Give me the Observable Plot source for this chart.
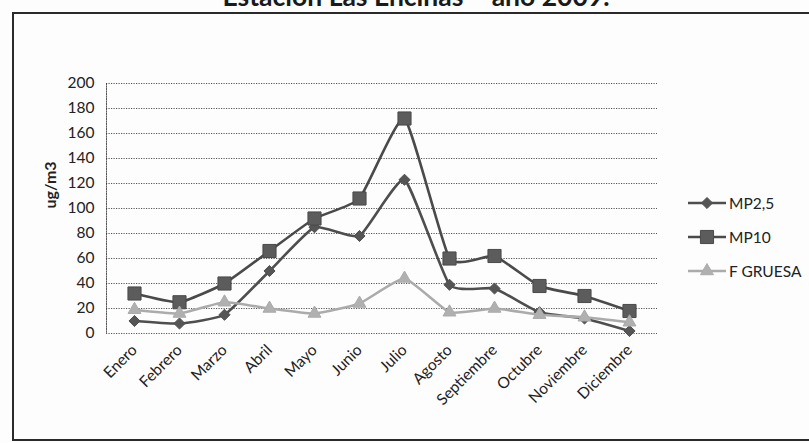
<!DOCTYPE html>
<html>
<head>
<meta charset="utf-8">
<script src="https://cdn.jsdelivr.net/npm/d3@7"></script>
<script src="https://cdn.jsdelivr.net/npm/@observablehq/plot@0.6"></script>
<style>
  body { margin: 0; background: #fff; }
  #wrap { position: relative; width: 809px; height: 443px; overflow: hidden; font-family: Lato, "Open Sans", sans-serif; background: #fdfdfd; }
  #frame { position: absolute; left: 12px; top: 12px; width: 830px; height: 429px; border: 2px solid #2a2a2a; box-sizing: border-box; pointer-events: none; }
  #title { position: absolute; left: 0; top: 0; }
  #chart { position: absolute; left: 0; top: 0; }
  #legend { position: absolute; left: 684px; top: 190px; }
</style>
</head>
<body>
<div id="wrap">
  <svg id="title" width="809" height="20"></svg>
  <div id="chart"></div>
  <div id="frame"></div>
  <svg id="legend" width="120" height="100"></svg>
</div>
<script>
// Monthly concentrations, Estación Las Encinas, 2009
const months = ["Enero", "Febrero", "Marzo", "Abril", "Mayo", "Junio", "Julio",
  "Agosto", "Septiembre", "Octubre", "Noviembre", "Diciembre"];
const mp25 = [10, 8, 15, 50, 85, 78, 123, 39, 36, 17, 12, 2];
const mp10 = [32, 25, 40, 66, 92, 108, 172, 60, 62, 38, 30, 18];
const fGruesa = [19, 16, 25, 20, 16, 24, 44, 17, 20, 15, 13, 9];
const yTicks = [0, 20, 40, 60, 80, 100, 120, 140, 160, 180, 200];
const seriesNames = ["MP2,5", "MP10", "F GRUESA"];
const titleText = "Estación Las Encinas – año 2009.";
const yLabel = "ug/m3";

const seriesStyle = {
  "MP2,5": {stroke: "#4e4e4e", fill: "#555", symbol: "diamond2", r: 5},
  "MP10": {stroke: "#4a4a4a", fill: "#5c5c5c", symbol: "square", r: 7.4},
  "F GRUESA": {stroke: "#ababab", fill: "#b0b0b0", symbol: "triangle", r: 4.8}
};

const valuesBySeries = {"MP2,5": mp25, "MP10": mp10, "F GRUESA": fGruesa};
const rows = seriesNames.flatMap(s => months.map((m, i) => ({series: s, month: m, value: valuesBySeries[s][i]})));

const font = 'Lato, "Open Sans", sans-serif';

const marks = [
  Plot.gridY(yTicks, {stroke: "#3a3a3a", strokeOpacity: 0.85, strokeDasharray: "1.2,1.3", strokeWidth: 1}),
  Plot.frame({anchor: "left", stroke: "#3a3a3a", strokeOpacity: 0.85, strokeDasharray: "1.2,1.3"}),
  Plot.axisY(yTicks, {tickSize: 0, tickPadding: 12, fontSize: 15.5, fill: "#222", label: null}),
  Plot.axisX({tickSize: 0, tickRotate: -45, tickPadding: 14, fontSize: 15.5, fill: "#222", label: null}),
  Plot.text([yLabel], {frameAnchor: "left", dx: -56, rotate: -90, fontSize: 16, fontWeight: "bold", fill: "#222"})
];

// Lightly smoothed lines with markers at each month
for (const s of seriesNames) {
  const st = seriesStyle[s];
  const d = rows.filter(r => r.series === s);
  marks.push(Plot.line(d, {x: "month", y: "value", stroke: st.stroke, strokeWidth: 2.6, curve: "cardinal", tension: 0.55}));
  marks.push(Plot.dot(d, {x: "month", y: "value", symbol: () => st.symbol, r: st.r, fill: st.fill, stroke: st.stroke, strokeWidth: 1}));
}

const chart = Plot.plot({
  width: 809,
  height: 443,
  marginLeft: 106,
  marginRight: 152,
  marginTop: 83,
  marginBottom: 110,
  style: {fontFamily: font, background: "transparent", overflow: "visible"},
  x: {type: "point", domain: months, padding: 0.5, align: 0.5},
  y: {domain: [0, 200]},
  symbol: {type: "identity"},
  marks
});
document.getElementById("chart").append(chart);

// Title, partly cut off by the top edge of the page
const title = d3.select("#title");
title.append("text")
  .attr("x", 416).attr("y", 6)
  .attr("text-anchor", "middle")
  .attr("font-family", font)
  .attr("font-weight", "bold")
  .attr("font-size", 26.5)
  .attr("fill", "#1a1a1a")
  .text(titleText);

// Legend
const legend = d3.select("#legend");
seriesNames.forEach((s, i) => {
  const st = seriesStyle[s];
  const y = 13 + i * 34;
  const g = legend.append("g").attr("transform", `translate(0,${y})`);
  g.append("line").attr("x1", 4).attr("x2", 42).attr("y1", 0).attr("y2", 0)
    .attr("stroke", st.stroke).attr("stroke-width", 2.6);
  const sym = {diamond2: d3.symbolDiamond2, square: d3.symbolSquare, triangle: d3.symbolTriangle}[st.symbol];
  g.append("path").attr("transform", "translate(23,0)")
    .attr("d", d3.symbol(sym, Math.PI * st.r * st.r)())
    .attr("fill", st.fill).attr("stroke", st.stroke);
  g.append("text").attr("x", 45).attr("y", 5.5)
    .attr("font-family", font).attr("font-size", 15.5).attr("fill", "#222")
    .text(s);
});
</script>
</body>
</html>
